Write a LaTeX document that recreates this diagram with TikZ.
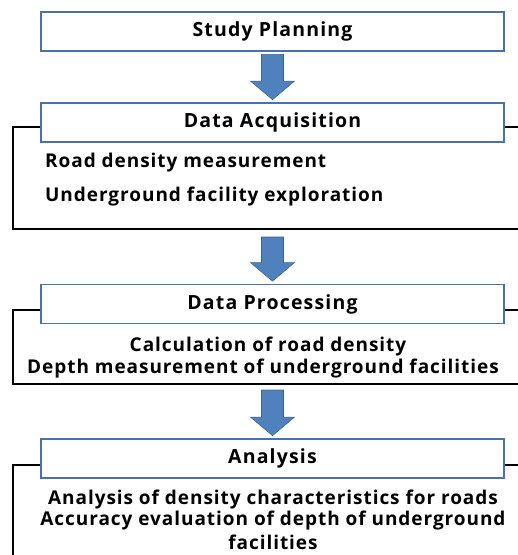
\documentclass[tikz,border=0pt]{standalone}
\usepackage{fontspec}
\setmainfont{Open Sans}
\usetikzlibrary{calc}
\definecolor{boxblue}{RGB}{74,114,168}
\definecolor{arrfill}{RGB}{79,129,189}
\definecolor{arredge}{RGB}{60,98,145}
\tikzset{
  stagebox/.style={draw=boxblue, line width=1.8pt, fill=white, minimum width=463pt, minimum height=39pt, inner sep=0pt, font=\fontsize{19.5}{20}\selectfont\bfseries\addfontfeature{LetterSpace=6}},
  bodytext/.style={inner sep=0pt, font=\fontsize{19}{22}\selectfont\bfseries\addfontfeature{LetterSpace=5}},
  frame/.style={draw=black, line width=1.6pt},
}
% #1 start coordinate, #2 target node
\newcommand{\blockarrow}[2]{%
  \filldraw[fill=arrfill, draw=arredge, line width=0.6pt]
    ($(#1)+(-11,0)$) -- ($(#1)+(11,0)$) -- ($(#2.north)+(11,-21)$)
    -- ($(#2.north)+(22,-21)$) -- ($(#2.north)+(0,-2.5)$) -- ($(#2.north)+(-22,-21)$)
    -- ($(#2.north)+(-11,-21)$) -- cycle;}
\begin{document}
\begin{tikzpicture}[x=1pt,y=-1pt]
\useasboundingbox (0,0) rectangle (518,555);
% frames
\draw[frame] (41,127) -- (13,127) -- (13,229) -- (530,229);
\draw[frame] (504,127) -- (530,127);
\draw[frame] (41,310) -- (13,310) -- (13,384) -- (530,384);
\draw[frame] (504,310) -- (530,310);
\draw[frame] (41,465) -- (13,465) -- (13,560);
\draw[frame] (504,465) -- (530,465);
% boxes
\node[stagebox] (sp) at (272.5,31.5) {Study Planning};
\node[stagebox] (da) at (272.5,122.5) {Data Acquisition};
\node[stagebox] (dp) at (272.5,304) {Data Processing};
\node[stagebox] (an) at (272.5,458.5) {Analysis};
% arrow start points
\coordinate (a1) at ($(sp.south)+(0,2.5)$);
\coordinate (a2) at (272.5,237);
\coordinate (a3) at (272.5,390);
% arrows
\blockarrow{a1}{da}
\blockarrow{a2}{dp}
\blockarrow{a3}{an}
% texts
\node[bodytext, anchor=west] (t1) at (45,163) {Road density measurement};
\node[bodytext, anchor=west] (t2) at (45,197) {Underground facility exploration};
\node[bodytext] (t3) at (268,347) {Calculation of road density};
\node[bodytext] (t4) at (263,369) {Depth measurement of underground facilities};
\node[bodytext] (t5) at (273,500) {Analysis of density characteristics for roads};
\node[bodytext] (t6) at (273,521) {Accuracy evaluation of depth of underground};
\node[bodytext] (t7) at (273,542) {facilities};
\end{tikzpicture}
\end{document}
